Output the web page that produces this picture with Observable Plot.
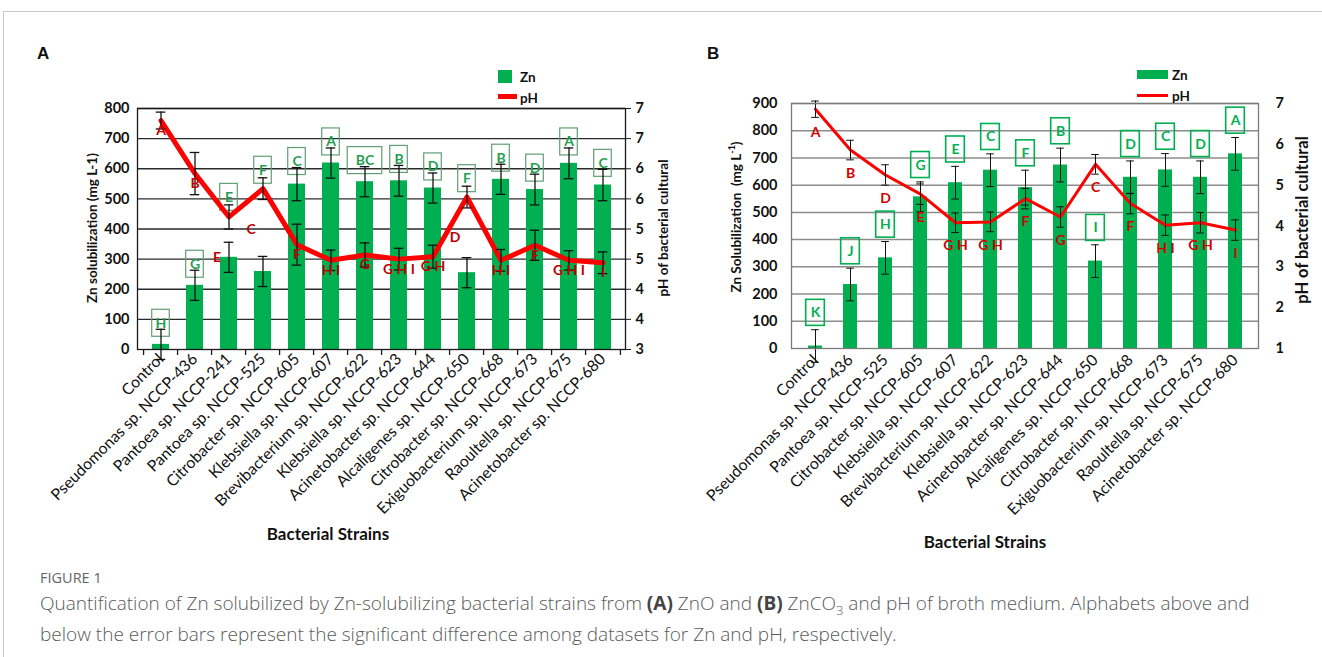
<!DOCTYPE html>
<html><head><meta charset="utf-8">
<script src="https://cdn.jsdelivr.net/npm/d3@7"></script>
<script src="https://cdn.jsdelivr.net/npm/@observablehq/plot@0.6"></script>
<style>
body{margin:0;background:#fff;}
#wrap{position:relative;width:1322px;height:657px;overflow:hidden;font-family:Lato,"Open Sans",sans-serif;background:#fff;}
.abs{position:absolute;white-space:nowrap;}
.rot{transform:translate(-50%,-50%) rotate(-90deg);font-weight:bold;color:#111;}
.plot{position:absolute;top:0;}
.plot svg{background:transparent !important;}
.plot g[aria-label="x-axis tick label"]{font-size:15.8px;}
.plot g[aria-label="x-axis tick label"] text{font-size:15.8px;}
.lg{font-weight:bold;font-size:13.5px;color:#111;transform:translateY(-50%);}
.cap{font-family:"Open Sans",sans-serif;font-weight:300;color:#5a5a5a;font-size:19px;line-height:24px;}
.cap b{font-weight:700;color:#444;}
</style></head><body><div id="wrap">
<div class="abs" style="left:3px;top:11px;width:1330px;height:0;border-top:1px solid #c8c8c8"></div>
<div class="abs" style="left:3px;top:11px;width:0;height:660px;border-left:1px solid #c8c8c8"></div>
<div id="pA" class="plot" style="left:0px"></div>
<div id="pB" class="plot" style="left:690px"></div>
<div class="abs" style="left:37px;top:44px;font-family:'Liberation Sans',Arial,sans-serif;font-weight:bold;font-size:17px;color:#111">A</div>
<div class="abs" style="left:707px;top:44px;font-family:'Liberation Sans',Arial,sans-serif;font-weight:bold;font-size:17px;color:#111">B</div>
<!-- legend A -->
<div class="abs" style="left:498px;top:70px;width:14px;height:13px;background:#00B050"></div>
<div class="abs lg" style="left:520px;top:77px">Zn</div>
<div class="abs" style="left:498px;top:94px;width:19px;height:5px;background:#ff0000"></div>
<div class="abs lg" style="left:520px;top:98px">pH</div>
<!-- legend B -->
<div class="abs" style="left:1137px;top:70px;width:31px;height:9px;background:#00B050"></div>
<div class="abs lg" style="left:1172px;top:75px">Zn</div>
<div class="abs" style="left:1137px;top:94px;width:31px;height:3px;background:#ff0000"></div>
<div class="abs lg" style="left:1172px;top:96px">pH</div>
<!-- axis titles -->
<div class="abs rot" style="left:92px;top:228px;font-size:13.5px">Zn solubilization (mg L-1)</div>
<div class="abs rot" style="left:663px;top:228px;font-size:13.5px">pH of bacterial cultural</div>
<div class="abs rot" style="left:735px;top:217px;font-size:13.5px">Zn Solubilization&nbsp; (mg L<sup style="font-size:9px">-1</sup>)</div>
<div class="abs rot" style="left:1302px;top:220px;font-size:16.5px">pH of bacterial cultural</div>
<div class="abs" style="left:328px;top:533px;transform:translate(-50%,-50%);font-weight:bold;font-size:17px;color:#111">Bacterial Strains</div>
<div class="abs" style="left:985px;top:541px;transform:translate(-50%,-50%);font-weight:bold;font-size:17px;color:#111">Bacterial Strains</div>
<!-- caption -->
<div class="abs" style="left:40px;top:568px;font-family:'Open Sans',sans-serif;font-size:14.5px;color:#666;font-weight:500">FIGURE 1</div>
<div class="abs cap" style="left:40px;top:591px">Quantification of Zn solubilized by Zn-solubilizing bacterial strains from <b>(A)</b> ZnO and <b>(B)</b> ZnCO<sub style="font-size:13px">3</sub> and pH of broth medium. Alphabets above and<br>below the error bars represent the significant difference among datasets for Zn and pH, respectively.</div>
</div>
<script>
// ---------- Panel A data (ZnO) ----------
const strainsA = ["Control","Pseudomonas sp. NCCP-436","Pantoea sp. NCCP-241","Pantoea sp. NCCP-525","Citrobacter sp. NCCP-605","Klebsiella sp. NCCP-607","Brevibacterium sp. NCCP-622","Klebsiella sp. NCCP-623","Acinetobacter sp. NCCP-644","Alcaligenes sp. NCCP-650","Citrobacter sp. NCCP-668","Exiguobacterium sp. NCCP-673","Raoultella sp. NCCP-675","Acinetobacter sp. NCCP-680"];
const znA = [17, 213, 306, 259, 549, 619, 557, 560, 536, 255, 565, 531, 618, 546];
const znErrA = [50, 50, 50, 50, 55, 50, 50, 51, 50, 50, 50, 51, 51, 52];
const phA = [6.8, 5.92, 5.2, 5.67, 4.74, 4.48, 4.57, 4.5, 4.54, 5.53, 4.48, 4.73, 4.48, 4.44];
const phErrA = [0.14, 0.35, 0.2, 0.18, 0.34, 0.17, 0.2, 0.18, 0.19, 0.18, 0.18, 0.25, 0.16, 0.18];
const znLetA = ["H","G","E","F","C","A","BC","B","D","F","B","D","A","C"];
const phLetA = ["A","B","E","C","F","H I","G","G H I","G H","D","H I","F","G H I","I"];
const znTicksA = [0,100,200,300,400,500,600,700,800];
const phTickLabelsA = ["3","4","4","5","5","6","6","7","7"];

// ---------- Panel B data (ZnCO3) ----------
const strainsB = ["Control","Pseudomonas sp. NCCP-436","Pantoea sp. NCCP-525","Citrobacter sp. NCCP-605","Klebsiella sp. NCCP-607","Brevibacterium sp. NCCP-622","Klebsiella sp. NCCP-623","Acinetobacter sp. NCCP-644","Alcaligenes sp. NCCP-650","Citrobacter sp. NCCP-668","Exiguobacterium sp. NCCP-673","Raoultella sp. NCCP-675","Acinetobacter sp. NCCP-680"];
const znB = [9, 235, 333, 557, 609, 655, 591, 674, 321, 629, 656, 629, 715];
const znErrB = [60, 60, 60, 55, 60, 60, 64, 62, 60, 60, 60, 60, 60];
const phB = [6.86, 5.86, 5.25, 4.78, 4.08, 4.1, 4.67, 4.22, 5.51, 4.55, 4.02, 4.08, 3.9];
const phErrB = [0.2, 0.24, 0.25, 0.25, 0.24, 0.24, 0.25, 0.25, 0.24, 0.25, 0.25, 0.25, 0.25];
const znLetB = ["K","J","H","G","E","C","F","B","I","D","C","D","A"];
const phLetB = ["A","B","D","E","G H","G H","F","G","C","F","H I","G H","I"];
const znTicksB = [0,100,200,300,400,500,600,700,800,900];
const phTicksB = [1,2,3,4,5,6,7];
const phTickLabelsB = ["1","2","3","4","5","6","7"];

const FONT = "Lato, 'Open Sans', sans-serif";

function panel(o) {
  const n = o.strains.length;
  const data = o.strains.map((s, i) => ({
    s, zn: o.zn[i], ze: o.znErr[i], pv: o.phToY(o.ph[i]), pe: o.phErr[i] * o.phUnit,
    zl: o.znLet[i], pl: o.phLet[i]
  }));
  data.forEach(d => {
    d.special = o.special && d.pv > d.zn && (d.pv + d.pe) - (d.zn + d.ze) < 300;
    d.boxY = d.special ? d.pv + d.pe + o.boxOffSpecial : d.zn + d.ze + o.boxOff;
    d.redY = d.special ? d.pv - o.redOffSpecial : d.pv - o.redOff;
  });
  const plotW = o.width - o.ml - o.mr;
  const plotH = o.height - o.mt - o.mb;
  const step = plotW / n;
  const bandW = step * (1 - o.padInner);
  const unitPerPx = (o.yDomain[1] - o.yDomain[0]) / plotH;
  const capInset = (bandW - o.capW) / 2;
  const marks = [];
  marks.push(Plot.ruleY(o.znTicks.slice(1), {stroke: o.grid, strokeWidth: o.gridW}));
  marks.push(Plot.barY(data, {x: "s", y: "zn", fill: "#00B050"}));
  const lens = [...new Set(data.map(d => d.zl.length))];
  for (const L of lens) {
    const w = o.boxW + (L - 1) * o.boxWExtra;
    const ins = (bandW - w) / 2;
    marks.push(Plot.barY(data.filter(d => d.zl.length === L), {
      x: "s", y1: d => d.boxY - o.boxH * unitPerPx / 2, y2: d => d.boxY + o.boxH * unitPerPx / 2,
      fill: "none", stroke: o.boxStroke, strokeWidth: o.boxSW, insetLeft: ins, insetRight: ins
    }));
  }
  marks.push(Plot.text(data, {x: "s", y: "boxY", text: "zl", fill: o.letterFill, fontWeight: "bold", fontSize: 14, fontFamily: FONT}));
  marks.push(Plot.line(data, {x: "s", y: "pv", stroke: "#ff0000", strokeWidth: o.lineW, curve: "linear"}));
  marks.push(Plot.ruleX(data, {x: "s", y1: d => d.zn - d.ze, y2: d => d.zn + d.ze, stroke: "#111", strokeWidth: o.errW}));
  marks.push(Plot.tickY(data, {x: "s", y: d => d.zn + d.ze, stroke: "#111", strokeWidth: o.errW, insetLeft: capInset, insetRight: capInset}));
  marks.push(Plot.tickY(data, {x: "s", y: d => d.zn - d.ze, stroke: "#111", strokeWidth: o.errW, insetLeft: capInset, insetRight: capInset}));
  marks.push(Plot.ruleX(data, {x: "s", y1: d => d.pv - d.pe, y2: d => d.pv + d.pe, stroke: "#111", strokeWidth: o.errW}));
  marks.push(Plot.tickY(data, {x: "s", y: d => d.pv + d.pe, stroke: "#111", strokeWidth: o.errW, insetLeft: capInset, insetRight: capInset}));
  marks.push(Plot.tickY(data, {x: "s", y: d => d.pv - d.pe, stroke: "#111", strokeWidth: o.errW, insetLeft: capInset, insetRight: capInset}));
  marks.push(Plot.text(data.filter(d => !d.special), {x: "s", y: "redY", text: "pl", fill: o.redFill, fontWeight: "bold", fontSize: 14, fontFamily: FONT}));
  marks.push(Plot.text(data.filter(d => d.special), {x: "s", y: "redY", text: "pl", fill: o.redFill, fontWeight: "bold", fontSize: 14, fontFamily: FONT, dx: -12}));
  marks.push(Plot.frame({stroke: o.frame, strokeWidth: o.frameW}));
  marks.push(Plot.axisY({ticks: o.znTicks, anchor: "left", tickSize: 0, tickPadding: o.leftPad, fontSize: 14.5, fontWeight: "bold", fontFamily: FONT, fill: "#111", label: null}));
  marks.push(Plot.axisY({ticks: o.rightTicks, anchor: "right", tickSize: o.rightTickSize, tickPadding: o.rightPad, stroke: o.frame,
    tickFormat: d => o.rightLabels[o.rightTicks.indexOf(d)], fontSize: 14.5, fontWeight: "bold", fontFamily: FONT, fill: "#111", label: null}));
  marks.push(Plot.axisX({tickRotate: -45, tickSize: 0, tickPadding: o.xPad, fontSize: 15.8, fontFamily: FONT, fill: "#111", label: null}));
  if (o.boundaryTicks) {
    marks.push(Plot.ruleX(o.strains, {x: d => d, dx: -step / 2, y1: 0, y2: -6 * unitPerPx, stroke: o.frame, strokeWidth: 1.3}));
    marks.push(Plot.ruleX(o.strains.slice(-1), {x: d => d, dx: step / 2, y1: 0, y2: -6 * unitPerPx, stroke: o.frame, strokeWidth: 1.3}));
  }
  return Plot.plot({
    width: o.width, height: o.height,
    marginLeft: o.ml, marginRight: o.mr, marginTop: o.mt, marginBottom: o.mb,
    x: {type: "band", domain: o.strains, paddingInner: o.padInner, paddingOuter: o.padInner / 2},
    y: {domain: o.yDomain},
    style: {fontFamily: FONT, background: "transparent", overflow: "visible"},
    marks
  });
}

document.getElementById("pA").appendChild(panel({
  strains: strainsA, zn: znA, znErr: znErrA, ph: phA, phErr: phErrA, znLet: znLetA, phLet: phLetA,
  phToY: p => (p - 3) * 200, phUnit: 200, yDomain: [0, 800], znTicks: znTicksA,
  rightTicks: znTicksA, rightLabels: phTickLabelsA,
  width: 690, height: 560, ml: 137, mr: 65, mt: 108, mb: 211,
  padInner: 0.5, grid: "#2a2a2a", gridW: 1.3, frame: "#1a1a1a", frameW: 1.3,
  lineW: 5, errW: 1.3, capW: 10,
  boxW: 18, boxWExtra: 17, boxH: 27, boxSW: 1.2, boxStroke: "#5f9f73", letterFill: "#1fa04f",
  redFill: "#c00000", special: true, boxOff: 20, boxOffSpecial: 25, redOff: 33, redOffSpecial: 135,
  leftPad: 8, rightPad: 5, rightTickSize: 5, xPad: 7, boundaryTicks: true
}));

document.getElementById("pB").appendChild(panel({
  strains: strainsB, zn: znB, znErr: znErrB, ph: phB, phErr: phErrB, znLet: znLetB, phLet: phLetB,
  phToY: p => (p - 1) * 150, phUnit: 150, yDomain: [0, 900], znTicks: znTicksB,
  rightTicks: phTicksB.map(p => (p - 1) * 150), rightLabels: phTickLabelsB,
  width: 632, height: 560, ml: 101, mr: 64, mt: 103, mb: 212,
  padInner: 0.6, grid: "#8c8c8c", gridW: 1.5, frame: "#7a7a7a", frameW: 1.3,
  lineW: 3, errW: 1, capW: 8,
  boxW: 19, boxWExtra: 17, boxH: 26, boxSW: 1.6, boxStroke: "#00B050", letterFill: "#00B050",
  redFill: "#d00000", special: false, boxOff: 62, boxOffSpecial: 0, redOff: 85, redOffSpecial: 0,
  leftPad: 14, rightPad: 17, rightTickSize: 0, xPad: 9, boundaryTicks: false
}));
</script>
</body></html>
